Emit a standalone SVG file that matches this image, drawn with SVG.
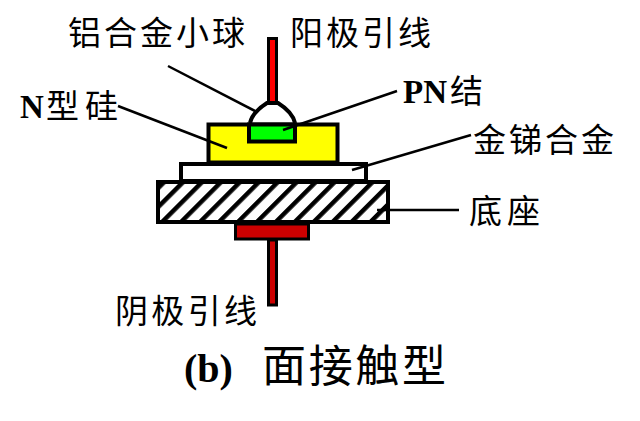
<svg xmlns="http://www.w3.org/2000/svg" width="640" height="421" viewBox="0 0 640 421">
<style>
.s{stroke:#000;stroke-width:4}
.l{stroke:#000;stroke-width:2.5;fill:none}
text{font-family:"Liberation Serif","Noto Sans CJK SC",serif;font-size:33px;fill:#000}
.b{font-weight:bold}
</style>
<defs>
<pattern id="h" width="13.4" height="13.4" patternUnits="userSpaceOnUse" patternTransform="translate(160 183) rotate(45)">
<rect width="13.4" height="13.4" fill="#fff"/>
<rect x="0" y="0" width="4.5" height="13.4" fill="#000"/>
</pattern>
</defs>
<rect width="640" height="421" fill="#fff"/>
<g id="lead-top"><rect x="268.500" y="38.500" width="8" height="65" fill="#f00" class="s" style="stroke-width:3"/></g>
<g id="ball"><path d="M250 123C252 114 259 108 267 103H278C286 108 293 114 295 123" fill="#fff" class="s"/></g>
<g id="n-si"><rect x="208.500" y="124.500" width="129" height="38" fill="#ff0" class="s"/></g>
<g id="pn"><rect x="249" y="124.500" width="46" height="17" fill="#0f0" class="s"/></g>
<g id="alloy"><rect x="181" y="164" width="185" height="17" fill="#fff" class="s"/></g>
<g id="base"><rect x="158" y="182" width="230" height="40" fill="url(#h)" class="s"/></g>
<g id="pad"><rect x="235.500" y="224" width="73" height="15" fill="#c00" class="s" style="stroke-width:3"/></g>
<g id="lead-bottom"><rect x="268.500" y="240" width="8" height="65" fill="#c00" class="s" style="stroke-width:3"/></g>
<g id="connectors">
<line class="l" x1="168" y1="66" x2="257" y2="112"/>
<line class="l" x1="118" y1="106" x2="227" y2="148"/>
<line class="l" x1="397" y1="91" x2="283" y2="130"/>
<line class="l" x1="471" y1="135" x2="352" y2="170"/>
<line class="l" x1="377" y1="210" x2="459" y2="210"/>
</g>
<g id="labels">
<text x="68" y="45" textLength="177" lengthAdjust="spacing">铝合金小球</text>
<text x="290" y="45" textLength="141" lengthAdjust="spacing">阳极引线</text>
<text x="20" y="118" class="b">N</text><text x="46" y="118" textLength="72" lengthAdjust="spacing">型硅</text>
<text x="403" y="103" class="b">PN</text><text x="450" y="103">结</text>
<text x="473" y="152" textLength="141" lengthAdjust="spacing">金锑合金</text>
<text x="469" y="223" textLength="71" lengthAdjust="spacing">底座</text>
<text x="115" y="323" textLength="142" lengthAdjust="spacing">阴极引线</text>
<text x="184" y="382" class="b" style="font-size:40px">(b)</text>
<text x="262" y="382" style="font-size:44px" textLength="184" lengthAdjust="spacing">面接触型</text>
</g>
</svg>
